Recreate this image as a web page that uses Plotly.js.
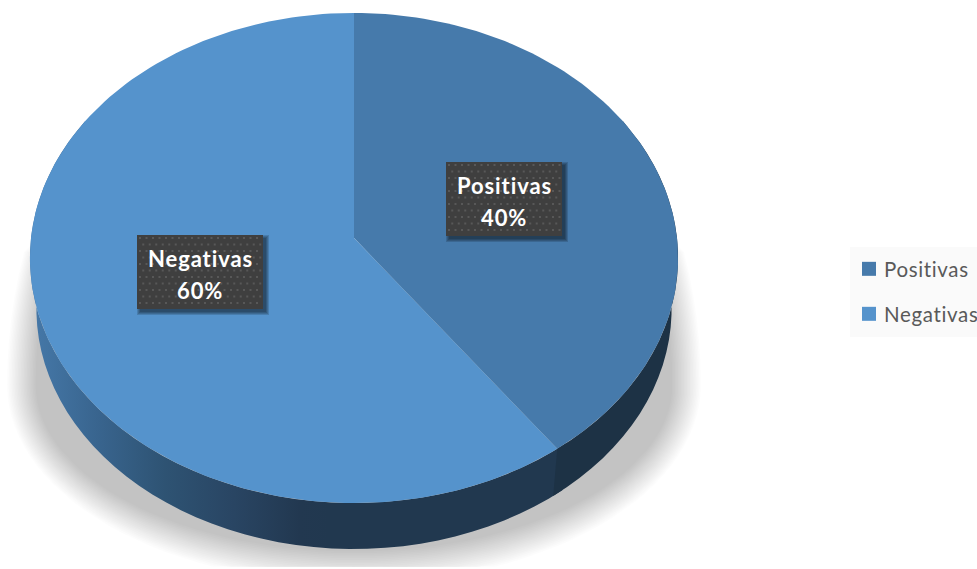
<!DOCTYPE html>
<html>
<head>
<meta charset="utf-8">
<script src="https://cdn.plot.ly/plotly-3.0.1.min.js"></script>
<style>
html,body{margin:0;padding:0;background:#fff;overflow:hidden;width:977px;height:569px}
.annotation-text{letter-spacing:.9px}
.legendtext,.legend2text{letter-spacing:.65px}
</style>
</head>
<body>
<div id="chart"></div>
<script>
// Data
const categories = ['Positivas', 'Negativas'];
const values = [40, 60];
const topColors = ['#467AAB', '#5593CC'];
const wallColor = '#1D3245';
const wallGradient = [[0,'#4679A9'],[0.22,'#39658F'],[0.45,'#2E5373'],[0.68,'#294563'],[0.9,'#223850'],[1,'#21384F']];

// Camera model of the tilted disc
const W = 1000, H = 569;
const CX = 354, CY = 238, RA = 323, RB = 243.4, K = 0.0816;
const WALL_SCALE = 0.98, WALL_DROP = 51.3;
const rad = d => d * Math.PI / 180;
function rim(deg) {
  const u = Math.sin(rad(deg)), v = Math.cos(rad(deg)), d = 1 + K * v;
  return [CX + RA * u / d, CY - RB * v / d];
}
function lowerRim(deg) {
  const p = rim(deg);
  return [CX + WALL_SCALE * (p[0] - CX), CY + WALL_SCALE * (p[1] - CY) + WALL_DROP];
}
function arc(fn, a, b, step) {
  const out = [], n = Math.max(2, Math.ceil(Math.abs(b - a) / step));
  for (let i = 0; i <= n; i++) out.push(fn(a + (b - a) * i / n));
  return out;
}
const poly = (pts, extra) => Object.assign({
  x: pts.map(p => p[0]), y: pts.map(p => p[1]), type: 'scatter', mode: 'lines',
  fill: 'toself', line: {width: 0}, showlegend: false, hoverinfo: 'skip'
}, extra);

const traces = [];

// Soft ground shadow
const SHADOW_LAYERS = 20;
for (let k = 0; k < SHADOW_LAYERS; k++) {
  const rx = 347 - k * 1.5, ryLow = 199 - k * 1.7, ryUp = 430, sy = 385, pts = [];
  for (let t = 0; t <= 360; t += 3) {
    const s = Math.sin(rad(t)), c = Math.cos(rad(t));
    const y = c > 0 ? sy - ryUp * c : sy - ryLow * c;
    pts.push([CX + rx * s, Math.max(246 + k, Math.min(567, y))]);
  }
  traces.push(poly(pts, {fillcolor: 'rgba(0,0,0,0.011)'}));
}

// Slice angles come from the values
const total = values.reduce((a, b) => a + b, 0);
const cut = values[0] / total * 360;

// Side walls: the gradient wall runs a little under the flat one so no seam shows
const wallB = arc(rim, cut - 2, 300, 3).concat(arc(lowerRim, 300, cut - 2, 3));
traces.push(poly(wallB, {
  fillgradient: {type: 'horizontal', start: 30, stop: 330, colorscale: wallGradient}
}));
const wallA = arc(rim, 60, cut, 3).concat(arc(lowerRim, cut, 60, 3));
traces.push(poly(wallA, {fillcolor: wallColor}));

// Top faces
let start = 0;
values.forEach((val, i) => {
  const end = start + val / total * 360;
  const pts = [[CX, CY]].concat(arc(rim, start, end, 1.5), [[CX, CY]]);
  traces.push(poly(pts, {name: categories[i], fillcolor: topColors[i]}));
  start = end;
});

// Data label boxes
const boxes = [
  {x0: 446, x1: 562, y0: 162, y1: 236},
  {x0: 137, x1: 263, y0: 235, y1: 309}
];
const rect = (b, d, o) => [[b.x0 + o - d, b.y0 + o - d], [b.x1 + o + d, b.y0 + o - d], [b.x1 + o + d, b.y1 + o + d], [b.x0 + o - d, b.y1 + o + d], [b.x0 + o - d, b.y0 + o - d]];
boxes.forEach(b => {
  for (let d = 3; d >= 0; d--) traces.push(poly(rect(b, d, 3), {fillcolor: 'rgba(0,0,0,0.15)'}));
  traces.push(poly(rect(b, 0, 0), {fillcolor: '#3F3F3F'}));
  const dx = [], dy = [];
  let row = 0;
  for (let y = b.y0 + 3; y < b.y1; y += 6.5, row++) {
    for (let x = b.x0 + 3 + (row % 2) * 3.25; x < b.x1 - 1; x += 6.5) { dx.push(x); dy.push(y); }
  }
  traces.push({x: dx, y: dy, type: 'scatter', mode: 'markers', showlegend: false, hoverinfo: 'skip',
    marker: {symbol: 'square', size: 2, color: '#585858', line: {width: 0}}});
});

// Legend entries, one legend per row
categories.forEach((c, i) => {
  traces.push({x: [null], y: [null], type: 'scatter', mode: 'markers', name: c, showlegend: true,
    legend: i === 0 ? 'legend' : 'legend2',
    marker: {symbol: 'square', size: 14, color: topColors[i], line: {width: 0}}});
});

const labelFont = {family: 'Lato, Carlito, sans-serif', size: 22, color: '#FFFFFF', weight: 700};
const annotations = [];
boxes.forEach((b, i) => {
  const mx = (b.x0 + b.x1) / 2;
  annotations.push({x: mx, y: b.y0 + 23, text: '<b>' + categories[i] + '</b>', showarrow: false, font: labelFont, xanchor: 'center', yanchor: 'middle'});
  annotations.push({x: mx, y: b.y0 + 55, text: '<b>' + values[i] + '%</b>', showarrow: false, font: labelFont, xanchor: 'center', yanchor: 'middle'});
});

const legendBase = {xref: 'paper', yref: 'paper', xanchor: 'left', yanchor: 'middle', x: 849 / W,
  bgcolor: 'rgba(0,0,0,0)', borderwidth: 0, font: {family: 'Lato, Carlito, sans-serif', size: 20.5, color: '#595959'}};

const layout = {
  width: W, height: H,
  margin: {l: 0, r: 0, t: 0, b: 0, autoexpand: false},
  paper_bgcolor: '#FFFFFF', plot_bgcolor: 'rgba(0,0,0,0)',
  xaxis: {range: [0, W], visible: false, fixedrange: true},
  yaxis: {range: [H, 0], visible: false, fixedrange: true},
  legend: Object.assign({}, legendBase, {y: 1 - 269 / H}),
  legend2: Object.assign({}, legendBase, {y: 1 - 314 / H}),
  annotations: annotations,
  shapes: [{type: 'rect', xref: 'x', yref: 'y', x0: 850, x1: 977, y0: 247, y1: 337, fillcolor: '#FAFAFA', line: {width: 0}, layer: 'below'}]
};

Plotly.newPlot('chart', traces, layout, {displayModeBar: false, responsive: false}).then(() => {
  document.querySelectorAll('.legendtext,.legend2text').forEach(t => t.setAttribute('x', 35));
});
</script>
</body>
</html>
